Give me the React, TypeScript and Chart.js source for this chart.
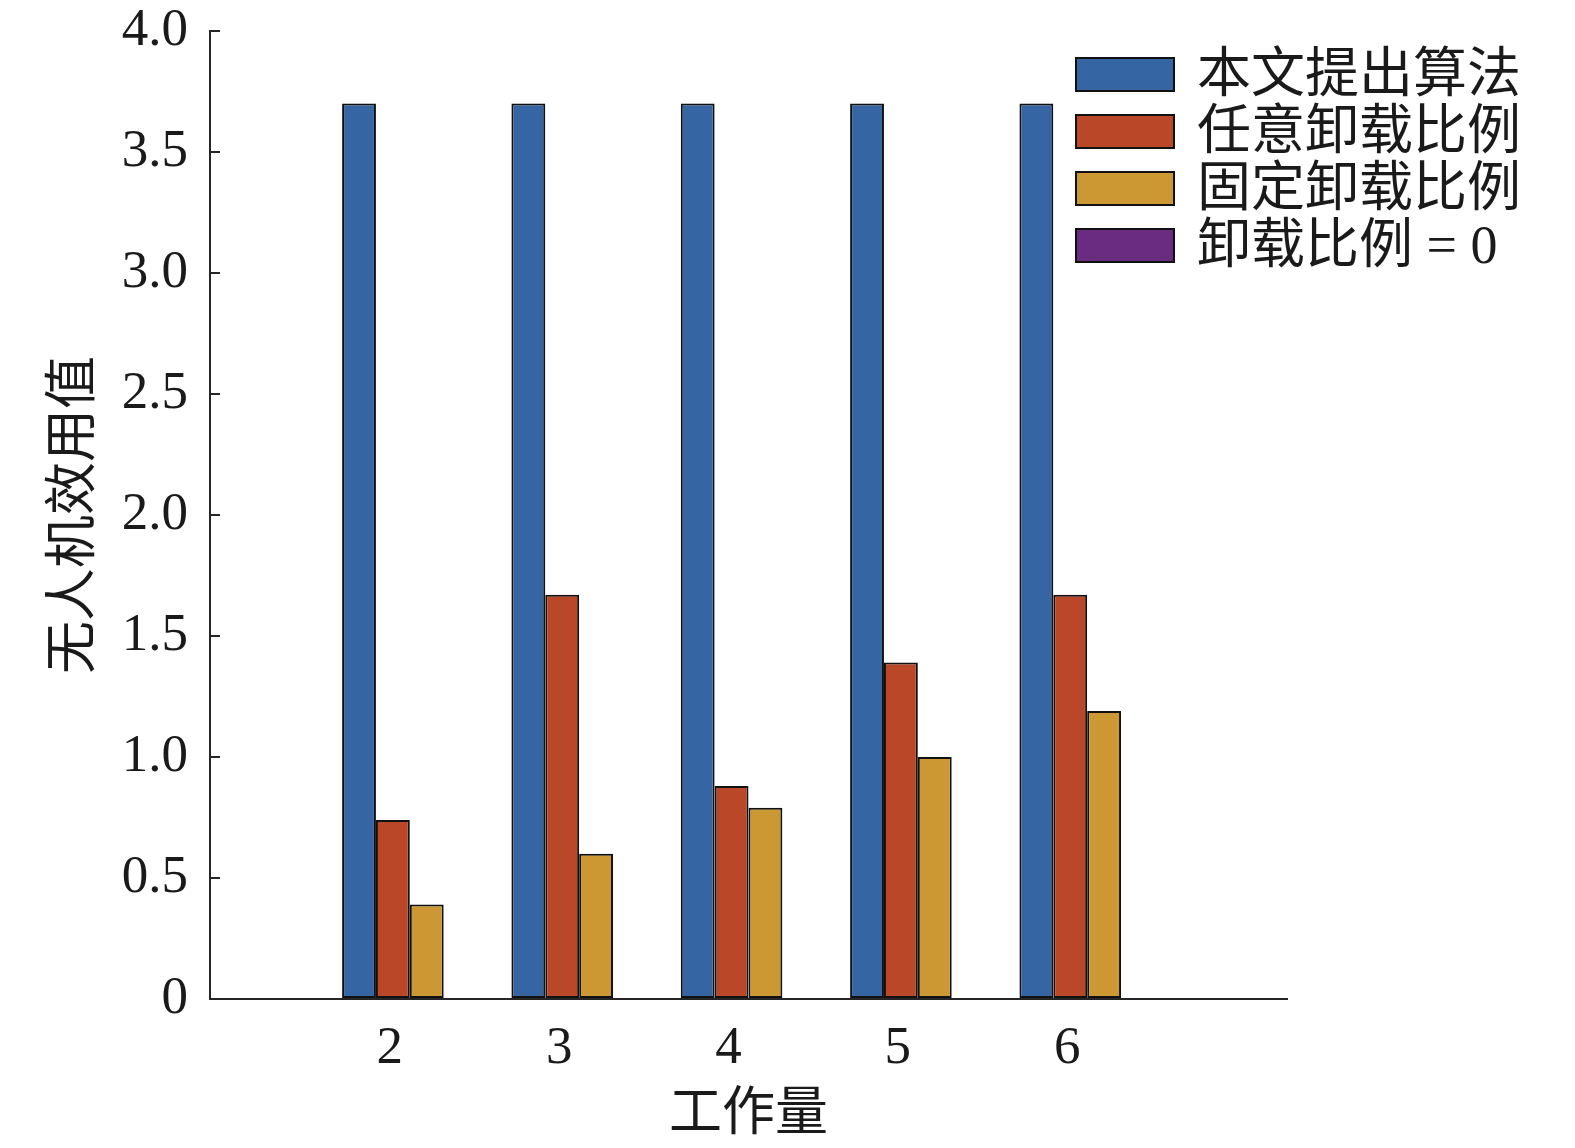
import { useEffect, useRef } from 'react';
import Chart from 'chart.js/auto';

const workloads = [2, 3, 4, 5, 6];
const seriesNames = ['本文提出算法', '任意卸载比例', '固定卸载比例', '卸载比例 = 0'];
const seriesColors = ['#3665A3', '#BA4828', '#CC9833', '#6A2C80'];
const proposed = [3.70, 3.70, 3.70, 3.70, 3.70];
const arbitraryRatio = [0.74, 1.67, 0.88, 1.39, 1.67];
const fixedRatio = [0.39, 0.60, 0.79, 1.00, 1.19];
const zeroRatio = [0, 0, 0, 0, 0];
const yTicks = [0, 0.5, 1.0, 1.5, 2.0, 2.5, 3.0, 3.5, 4.0];

const FONT = "'Liberation Serif', 'Times New Roman', 'Noto Sans CJK SC', serif";
const AXIS_COLOR = '#262626';

export default function App() {
  const canvasRef = useRef<HTMLCanvasElement>(null);
  const values = [proposed, arbitraryRatio, fixedRatio, zeroRatio];

  useEffect(() => {
    if (!canvasRef.current) return;
    const chart = new Chart(canvasRef.current, {
      type: 'bar',
      data: {
        datasets: values.map((vals, i) => ({
          label: seriesNames[i],
          data: workloads.map((w, j) => ({ x: w, y: vals[j] })),
          backgroundColor: seriesColors[i],
          borderColor: '#111111',
          borderWidth: 2,
          borderSkipped: false,
          categoryPercentage: 0.8,
          barPercentage: 1.0
        }))
      },
      options: {
        animation: false,
        responsive: true,
        maintainAspectRatio: false,
        layout: { padding: { top: 31, right: 288, bottom: 0, left: 0 } },
        plugins: {
          legend: { display: false },
          tooltip: { enabled: false }
        },
        scales: {
          x: {
            type: 'linear',
            min: 0.82,
            max: 7.18,
            offset: false,
            grid: { display: false, drawTicks: false },
            border: { display: true, color: AXIS_COLOR, width: 2 },
            afterBuildTicks: (scale: any) => {
              scale.ticks = workloads.map(v => ({ value: v }));
            },
            afterFit: (scale: any) => {
              scale.height = 149;
              scale.paddingLeft = 0;
              scale.paddingRight = 0;
            },
            ticks: {
              autoSkip: false,
              maxRotation: 0,
              padding: 18,
              labelOffset: -20,
              color: '#1a1a1a',
              font: { family: FONT, size: 53 },
              callback: (v: any) => String(v)
            },
            title: {
              display: true,
              text: '工作量',
              color: '#1a1a1a',
              font: { family: FONT, size: 53 },
              padding: { top: 0, bottom: 0 }
            }
          },
          y: {
            min: 0,
            max: 4,
            grid: {
              display: true,
              drawOnChartArea: false,
              drawTicks: true,
              tickLength: -10,
              color: AXIS_COLOR,
              lineWidth: 2
            },
            border: { display: true, color: AXIS_COLOR, width: 2 },
            afterBuildTicks: (scale: any) => {
              scale.ticks = yTicks.map(v => ({ value: v }));
            },
            afterFit: (scale: any) => {
              scale.width = 210;
              scale.paddingTop = 0;
              scale.paddingBottom = 0;
            },
            ticks: {
              padding: 32,
              color: '#1a1a1a',
              font: { family: FONT, size: 53 },
              callback: (v: any) => (v === 0 ? '0' : Number(v).toFixed(1))
            },
            title: {
              display: true,
              text: '无人机效用值',
              color: '#1a1a1a',
              font: { family: FONT, size: 53 },
              padding: { top: 44, bottom: 0 }
            }
          }
        }
      }
    });
    return () => chart.destroy();
  }, []);

  return (
    <div style={{ position: 'absolute', left: 0, top: 0, width: 1575, height: 1148, background: '#fff' }}>
      <canvas ref={canvasRef}></canvas>
      <div style={{ position: 'absolute', left: 1075, top: 46 }}>
        {seriesNames.map((name, i) => (
          <div key={name} style={{ display: 'flex', alignItems: 'center', height: 57 }}>
            <div
              style={{
                width: 96,
                height: 31,
                background: seriesColors[i],
                border: '2px solid #111',
                marginRight: 22
              }}
            />
            <span style={{ fontFamily: FONT, fontSize: 54, color: '#1a1a1a', lineHeight: '57px', whiteSpace: 'nowrap' }}>
              {name}
            </span>
          </div>
        ))}
      </div>
    </div>
  );
}
